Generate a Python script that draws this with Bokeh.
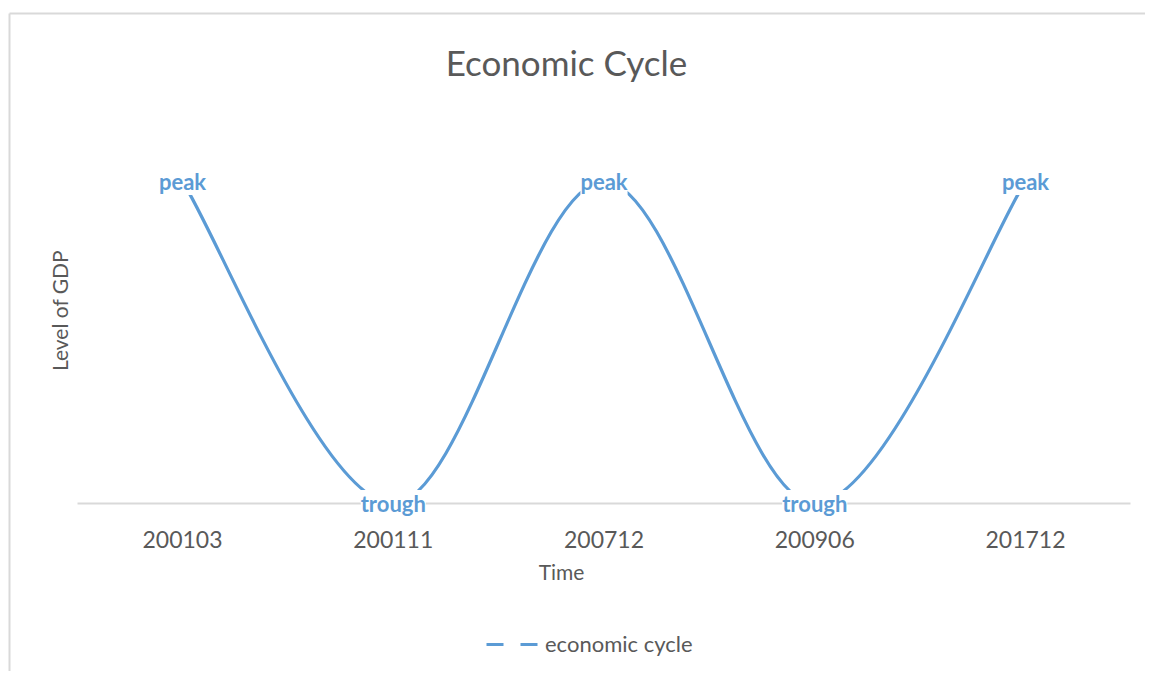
from bokeh.plotting import figure
from bokeh.models import (Range1d, FixedTicker, Label, LabelSet, ColumnDataSource,
                          Legend, LegendItem)
from bokeh.core.properties import value
from bokeh.embed import file_html
from bokeh.resources import INLINE

# ---- data ----
categories = ["200103", "200111", "200712", "200906", "201712"]
gdp_level = [1, 0, 1, 0, 1]
point_labels = ["peak", "trough", "peak", "trough", "peak"]

LINE = "#5b9bd5"
TEXT = "#595959"
GRID = "#d9d9d9"
FONT = "Lato"

W, H = 1145, 671
X0, DX = 182.0, 210.75      # pixel of first category, pixels per category
Y0, DY = 503.0, 322.0       # pixel of level 0, pixels per unit


def dx(px):
    return (px - X0) / DX


def dy(py):
    return (Y0 - py) / DY


p = figure(width=W, height=H, output_backend="svg", toolbar_location=None,
           x_range=Range1d(dx(0), dx(W)), y_range=Range1d(dy(H), dy(0)),
           y_axis_location=None, min_border=0, min_border_left=0,
           min_border_right=0, min_border_top=0, min_border_bottom=0)
p.outline_line_color = None
p.xgrid.visible = False
p.ygrid.visible = False
p.background_fill_color = "white"
p.border_fill_color = "white"

# chart-area border (top and left edges visible; the rest runs off the picture)
p.segment(x0=[dx(9), dx(9)], y0=[dy(13), dy(13)],
          x1=[dx(W + 50), dx(9)], y1=[dy(13), dy(H + 50)],
          line_color=GRID, line_width=2)

# x axis at level 0
xs = list(range(len(categories)))
ax = p.xaxis[0]
ax.fixed_location = 0
ax.bounds = (-0.5, len(categories) - 0.5)
ax.ticker = FixedTicker(ticks=xs)
ax.major_label_overrides = {i: c for i, c in enumerate(categories)}
ax.axis_line_color = GRID
ax.axis_line_width = 2
ax.major_tick_line_color = None
ax.minor_tick_line_color = None
ax.major_label_text_font = FONT
ax.major_label_text_font_size = "23px"
ax.major_label_text_color = TEXT
ax.major_label_standoff = 21

# smoothed line (Excel-style Catmull-Rom bezier) via bezier glyph
n = len(xs)
x0, y0, x1, y1, cx0, cy0, cx1, cy1 = [], [], [], [], [], [], [], []
for i in range(n - 1):
    ip = max(i - 1, 0)
    inn = min(i + 2, n - 1)
    x0.append(xs[i]); y0.append(gdp_level[i])
    x1.append(xs[i + 1]); y1.append(gdp_level[i + 1])
    cx0.append(xs[i] + (xs[i + 1] - xs[ip]) / 6)
    cy0.append(gdp_level[i] + (gdp_level[i + 1] - gdp_level[ip]) / 6)
    cx1.append(xs[i + 1] - (xs[inn] - xs[i]) / 6)
    cy1.append(gdp_level[i + 1] - (gdp_level[inn] - gdp_level[i]) / 6)
p.bezier(x0=x0, y0=y0, x1=x1, y1=y1, cx0=cx0, cy0=cy0, cx1=cx1, cy1=cy1,
         line_color=LINE, line_width=3.2, line_cap="round")

# data labels with white background
src = ColumnDataSource(dict(x=xs, y=gdp_level, t=point_labels))
p.add_layout(LabelSet(x="x", y="y", text="t", source=src, text_align="center",
                      text_baseline="middle", text_font=value(FONT),
                      text_font_size="22px", text_font_style="bold",
                      text_color=LINE, background_fill_color="white"))

# titles
p.add_layout(Label(x=dx(566), y=dy(61), text="Economic Cycle", text_align="center",
                   text_baseline="middle", text_font=FONT, text_font_size="35px",
                   text_color=TEXT))
p.add_layout(Label(x=dx(561), y=dy(571), text="Time", text_align="center",
                   text_baseline="middle", text_font=FONT, text_font_size="21px",
                   text_color=TEXT))
p.add_layout(Label(x=dx(59), y=dy(310), text="Level of GDP", angle=1.5708,
                   text_align="center", text_baseline="middle", text_font=FONT,
                   text_font_size="21px", text_color=TEXT))

# legend (its glyph comes from a dashed stand-in renderer placed off-screen)
legend_src = ColumnDataSource(dict(x=[dx(-100), dx(-90)], y=[dy(-100), dy(-100)]))
stand_in = p.line(x="x", y="y", source=legend_src, line_color=LINE,
                  line_width=3, line_dash="17 17")
legend = Legend(items=[LegendItem(label="economic cycle", renderers=[stand_in])],
                location=(486, H - 657), padding=0, spacing=0, margin=0,
                glyph_width=52, glyph_height=22, label_height=22,
                label_standoff=7, border_line_color=None,
                background_fill_alpha=0, label_text_font=FONT,
                label_text_font_size="22px", label_text_color=TEXT)
p.add_layout(legend)

open("out.html", "w").write(file_html(p, INLINE))
